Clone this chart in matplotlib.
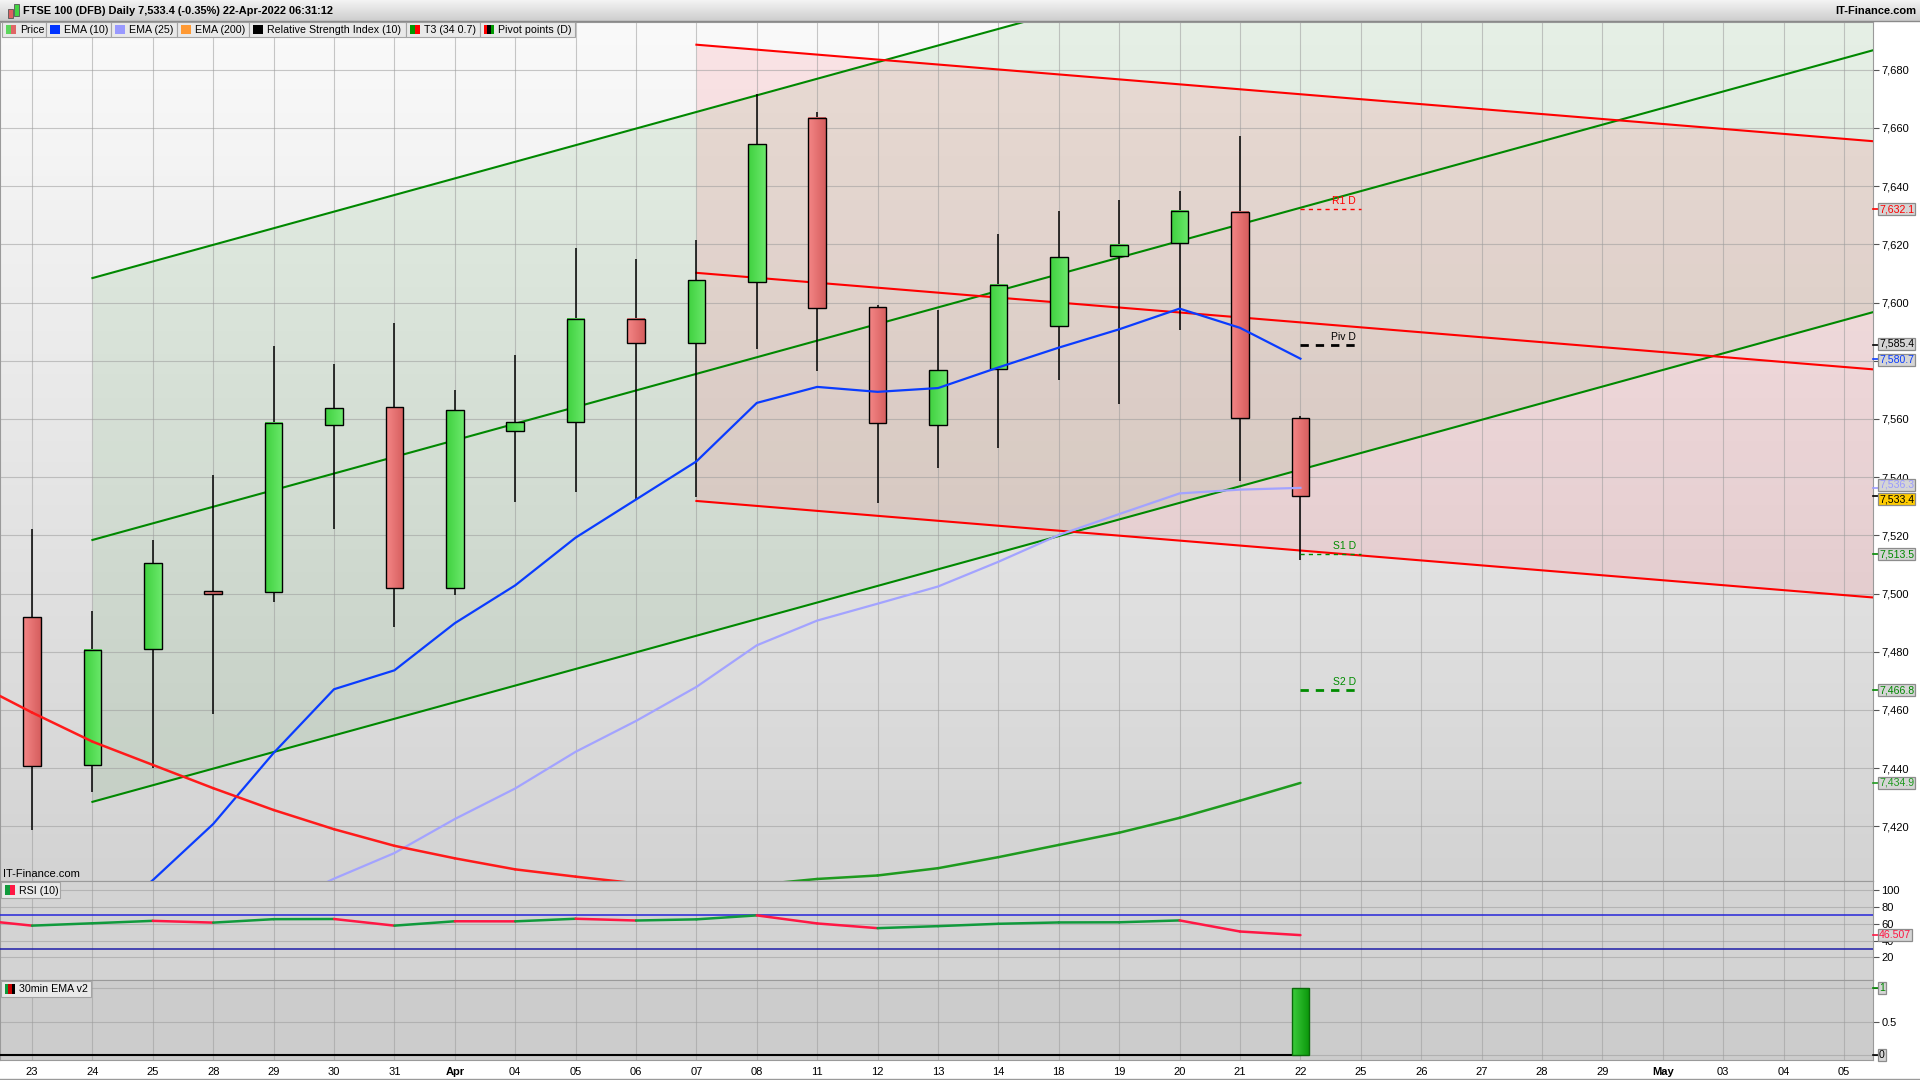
import numpy as np
import matplotlib
matplotlib.use('Agg')
import matplotlib.pyplot as plt
from matplotlib.colors import LinearSegmentedColormap
from matplotlib.patches import Rectangle

plt.rcParams['font.family'] = ['Liberation Sans', 'DejaVu Sans']

# trading days Mar 23 .. Apr 22, then empty future days up to May 05
day_labels = ['23', '24', '25', '28', '29', '30', '31', 'Apr', '04', '05', '06', '07',
              '08', '11', '12', '13', '14', '18', '19', '20', '21', '22',
              '25', '26', '27', '28', '29', 'May', '03', '04', '05']

# daily candles (FTSE 100 DFB)
opens = [7492.0, 7441.0, 7481.0, 7500.6, 7500.4, 7558.0, 7564.0, 7502.0, 7556.0, 7559.0, 7594.5,
         7586.0, 7607.0, 7663.3, 7598.3, 7558.0, 7577.0, 7592.0, 7616.0, 7620.3, 7631.2, 7560.2]
highs = [7522.1, 7494.0, 7518.4, 7540.7, 7585.0, 7579.0, 7593.0, 7570.0, 7582.0, 7618.6, 7615.0,
         7621.5, 7671.7, 7665.4, 7599.0, 7597.5, 7623.6, 7631.6, 7635.4, 7638.4, 7657.3, 7561.0]
lows = [7418.6, 7431.7, 7440.0, 7458.6, 7497.2, 7522.2, 7488.4, 7499.6, 7531.6, 7535.0, 7532.5,
        7533.0, 7584.0, 7576.4, 7531.0, 7543.0, 7550.0, 7573.4, 7565.0, 7590.7, 7538.7, 7511.4]
closes = [7440.8, 7480.6, 7510.4, 7500.0, 7558.5, 7563.7, 7501.8, 7563.0, 7559.0, 7594.5, 7586.0,
          7607.6, 7654.4, 7598.0, 7558.6, 7576.8, 7606.0, 7615.6, 7619.8, 7631.6, 7560.2, 7533.4]

# moving averages
ema10 = [7384.0, 7401.5, 7420.8, 7445.2, 7467.1, 7473.6, 7489.8, 7502.8, 7519.2, 7532.3, 7545.4,
         7565.5, 7571.0, 7569.3, 7570.6, 7577.7, 7584.5, 7590.8, 7597.9, 7591.3, 7580.7]   # from Mar 24
ema25 = [7392.0, 7402.0, 7410.8, 7422.5, 7433.0, 7445.6, 7456.2, 7467.9, 7482.2, 7490.7, 7496.5,
         7502.4, 7510.9, 7520.1, 7527.3, 7534.4, 7535.7, 7536.3]                           # from Mar 29
t3 = [7469.8, 7459.1, 7449.1, 7441.1, 7433.1, 7425.6, 7419.0, 7413.3, 7409.0, 7405.2, 7402.7,
      7400.4, 7399.2, 7399.9, 7401.9, 7403.1, 7405.6, 7409.4, 7413.6, 7417.8, 7422.9, 7428.8, 7434.9]  # from Mar 22
rsi = [65.3, 57.8, 60.6, 63.5, 61.4, 65.5, 65.7, 57.8, 63.0, 62.9, 66.0, 63.9,
       65.3, 70.0, 60.4, 54.8, 57.2, 60.0, 61.6, 61.8, 64.0, 50.8, 46.5]                  # from Mar 22
ema30_signal = [0, 0, 0, 0, 0, 0, 0, 0, 0, 0, 0, 0, 0, 0, 0, 0, 0, 0, 0, 0, 0, 1]

# regression channels: x range, mid line ends, half width
green_chan_x = [1, 30.5]
green_chan_mid = [7518.4, 7686.8]
green_chan_half = 90.0
red_chan_x = [11, 30.5]
red_chan_mid = [7610.2, 7577.0]
red_chan_half = 78.4

# daily pivot points
pivot_names = ['R1 D', 'Piv D', 'S1 D', 'S2 D']
pivot_values = [7632.1, 7585.4, 7513.5, 7466.8]
pivot_colors = ['#ff0000', '#000000', '#008c00', '#008c00']
pivot_widths = [1.0, 2.0, 1.0, 2.0]

W, H = 1920, 1080
RIGHT = 1873
XMIN, XMAX = -0.53, 30.48
GREEN = '#008800'

fig = plt.figure(figsize=(W / 100, H / 100), dpi=100, facecolor='white')


def panel(top, bottom):
    a = fig.add_axes([0, 1 - bottom / H, RIGHT / W, (bottom - top) / H])
    for s in a.spines.values():
        s.set_color('#9a9a9a')
    return a


ax = panel(22, 881)
ax_rsi = panel(881, 980)
ax_sig = panel(980, 1060)

x = np.arange(len(day_labels))
xc = x[:len(closes)]

bg_cmap = LinearSegmentedColormap.from_list('bg', ['#fafafa', '#d3d3d3'])
up_cmap = LinearSegmentedColormap.from_list('up', ['#3fd13f', '#6be86b'])
dn_cmap = LinearSegmentedColormap.from_list('dn', ['#f48686', '#d65e5e'])
bar_cmap = LinearSegmentedColormap.from_list('bar', ['#3ccc3c', '#0a960a'])
hgrad = np.linspace(0, 1, 32).reshape(1, -1)

# ---- main price panel ----
ymin, ymax = 7401.2, 7696.4
ax.imshow(np.linspace(0, 1, 256).reshape(-1, 1), extent=[XMIN, XMAX, ymin, ymax],
          cmap=bg_cmap, aspect='auto', zorder=0)

gm = np.array(green_chan_mid)
ax.fill_between(green_chan_x, gm - green_chan_half, gm + green_chan_half,
                color='#008000', alpha=0.08, lw=0, zorder=1)
rm = np.array(red_chan_mid)
ax.fill_between(red_chan_x, rm - red_chan_half, rm + red_chan_half,
                color=(1, 0.4, 0.45), alpha=0.15, lw=0, zorder=1)
for off in (-1, 0, 1):
    ax.plot(green_chan_x, gm + off * green_chan_half, color=GREEN, lw=1.5, zorder=2)
    ax.plot(red_chan_x, rm + off * red_chan_half, color='#ff0000', lw=1.5, zorder=2)

# candles
w = 0.29
for i, o, h, l, c in zip(xc, opens, highs, lows, closes):
    ax.vlines(i, l, h, color='black', lw=1.1, zorder=3)
    lo, hi = min(o, c), max(o, c)
    if hi - lo < 1.0:
        hi = lo + 1.0
    ax.imshow(hgrad, extent=[i - w / 2, i + w / 2, lo, hi], cmap=up_cmap if c >= o else dn_cmap,
              aspect='auto', zorder=4)
    ax.add_patch(Rectangle((i - w / 2, lo), w, hi - lo, fill=False, ec='black', lw=1.0, zorder=5))

ax.plot(x[1:1 + len(ema10)], ema10, color='#0a3cff', lw=1.6, zorder=6)
ax.plot(x[4:4 + len(ema25)], ema25, color='#a3a3ff', lw=1.6, zorder=6)
t3_x = np.arange(-1, len(t3) - 1)
for k in range(len(t3) - 1):
    col = '#1e9a1e' if t3[k + 1] >= t3[k] else '#ff1a1a'
    ax.plot(t3_x[k:k + 2], t3[k:k + 2], color=col, lw=1.8, zorder=6, solid_capstyle='round')

last = xc[-1]
for name, v, c, lw in zip(pivot_names, pivot_values, pivot_colors, pivot_widths):
    dash = (0, (3, 2.5)) if lw > 1.5 else (0, (3, 3))
    ax.hlines(v, last, last + 1, colors=c, lw=lw, linestyles=dash, zorder=6)
    ax.text(last + 0.92, v + 1.2, name, ha='right', va='bottom', color=c, fontsize=7.5, zorder=7)

ax.set_xlim(XMIN, XMAX)
ax.set_ylim(ymin, ymax)
yt = np.arange(7420, 7681, 20)
ax.set_yticks(yt)
# 7,580 sits under the value tags, as in the original
ax.set_yticklabels(['' if v == 7580 else f'{v:,}' for v in yt])
for lab, v in zip(ax.get_yticklabels(), yt):
    if v % 100 == 0:
        lab.set_fontweight('bold')

# ---- RSI panel ----
ax_rsi.set_facecolor('#d3d3d3')
ax_rsi.axhline(70, color='#2626d9', lw=1.1, zorder=3)
ax_rsi.axhline(30, color='#1e1ea8', lw=1.1, zorder=3)
rsi_x = np.arange(-1, len(rsi) - 1)
for k in range(len(rsi) - 1):
    col = '#109a3c' if rsi[k + 1] >= rsi[k] else '#ff1744'
    ax_rsi.plot(rsi_x[k:k + 2], rsi[k:k + 2], color=col, lw=1.8, zorder=4, solid_capstyle='round')
ax_rsi.set_ylim(-7, 111)
ax_rsi.set_yticks([20, 40, 60, 80, 100])
ax_rsi.set_yticklabels(['20', '40', '60', '80', '100'])
ax_rsi.get_yticklabels()[-1].set_fontweight('bold')

# ---- 30min EMA v2 panel ----
ax_sig.set_facecolor('#cccccc')
sig = np.array(ema30_signal)
ax_sig.plot([XMIN, last], [0, 0], color='black', lw=1.5, zorder=3)
for i, s in zip(xc, sig):
    if s > 0:
        ax_sig.imshow(hgrad, extent=[i - w / 2, i + w / 2, 0, s], cmap=bar_cmap, aspect='auto', zorder=4)
        ax_sig.add_patch(Rectangle((i - w / 2, 0), w, s, fill=False, ec='#0a6a0a', lw=1.0, zorder=5))
ax_sig.set_ylim(-0.075, 1.125)
ax_sig.set_yticks([0, 0.5, 1])
ax_sig.set_yticklabels(['', '0.5', ''])

for a in (ax, ax_rsi, ax_sig):
    a.set_xlim(XMIN, XMAX)
    a.set_xticks(x)
    a.grid(True, color='#9c9c9c', alpha=0.55, lw=0.8)
    a.yaxis.tick_right()
    a.tick_params(axis='y', direction='out', length=4, width=0.8, color='#555555', pad=2, labelsize=8)
    a.tick_params(axis='x', length=0, labelbottom=False)

ax_sig.tick_params(axis='x', labelbottom=True, pad=5)
ax_sig.set_xticklabels(day_labels)
for lab in ax_sig.get_xticklabels():
    lab.set_family(['Liberation Sans Narrow', 'Liberation Sans'])
    lab.set_fontsize(8)
    if lab.get_text() in ('Apr', 'May'):
        lab.set_fontweight('bold')


def tag(a, y, text, color, face='#d5d5d5', dy=0):
    tr = a.get_yaxis_transform()
    a.plot([1.0, 1.0025], [y, y], transform=tr, color=color, lw=1.2, clip_on=False, zorder=8)
    a.annotate(text, xy=(1, y), xycoords=tr, xytext=(6, dy), textcoords='offset pixels',
               ha='left', va='center', fontsize=7.6, color=color, zorder=9, annotation_clip=False,
               bbox=dict(boxstyle='square,pad=0.1', fc=face, ec='#8c8c8c', lw=0.9))


tag(ax, 7632.1, '7,632.1', '#ff0000')
tag(ax, 7585.4, '7,585.4', '#000000', dy=1)
tag(ax, 7580.7, '7,580.7', '#0a3cff', dy=-1)
tag(ax, 7536.3, '7,536.3', '#9a9aff', dy=3)
tag(ax, 7533.4, '7,533.4', '#000000', face='#ffcc00', dy=-3)
tag(ax, 7513.5, '7,513.5', GREEN)
tag(ax, 7466.8, '7,466.8', GREEN)
tag(ax, 7434.9, '7,434.9', '#1e9a1e')
tag(ax_rsi, rsi[-1], '46.507', '#ff1744')
tag(ax_sig, 1, '1', GREEN)
tag(ax_sig, 0, '0', '#000000')

# ---- header, legends and labels in pixel coordinates ----
ov = fig.add_axes([0, 0, 1, 1], zorder=10)
ov.patch.set_alpha(0)
title_cmap = LinearSegmentedColormap.from_list('tb', ['#f4f4f4', '#cdcdcd'])
ov.imshow(np.linspace(0, 1, 64).reshape(-1, 1), extent=[0, W, 21, 0], cmap=title_cmap, aspect='auto')
ov.plot([0, W], [21, 21], color='#8a8a8a', lw=1)
ov.add_patch(Rectangle((8, 9), 5, 9, fc='#e06060', ec='#555555', lw=0.6))
ov.add_patch(Rectangle((14, 4), 5, 12, fc='#44d444', ec='#555555', lw=0.6))
ov.text(23, 11, 'FTSE 100 (DFB) Daily 7,533.4 (-0.35%) 22-Apr-2022 06:31:12',
        fontsize=7.9, fontweight='bold', va='center', ha='left')
ov.text(W - 4, 11, 'IT-Finance.com', fontsize=8, fontweight='bold', va='center', ha='right')

legend_items = [('Price', ['#5cd65c', '#e06666']), ('EMA (10)', ['#0033ff']),
                ('EMA (25)', ['#9999ff']), ('EMA (200)', ['#ff9933']),
                ('Relative Strength Index (10)', ['#000000']), ('T3 (34 0.7)', ['#009900', '#ff0000']),
                ('Pivot points (D)', ['#ff0000', '#000000', '#009900'])]
box_edges = [2, 46, 111, 177, 249, 406, 480, 575]


def label_box(x0, x1, y0, y1, text, colors):
    ov.add_patch(Rectangle((x0, y0), x1 - x0, y1 - y0, fc='#e9e9e9', ec='#a4a4a4', lw=0.8))
    n = len(colors)
    for j, c in enumerate(colors):
        ov.add_patch(Rectangle((x0 + 4 + j * 10 / n, y0 + 3), 10 / n, y1 - y0 - 6, fc=c, lw=0))
    ov.text(x0 + 18, (y0 + y1) / 2 + 0.5, text, fontsize=7.7, va='center', ha='left')


for (name, cols), x0, x1 in zip(legend_items, box_edges[:-1], box_edges[1:]):
    label_box(x0, x1, 22, 37, name, cols)
label_box(1, 60, 882, 898, 'RSI (10)', ['#109a3c', '#ff1744'])
label_box(1, 91, 981, 997, '30min EMA v2', ['#109a3c', '#cc0000', '#000000'])
ov.text(3, 879, 'IT-Finance.com', fontsize=8, va='bottom', ha='left')
ov.plot([0, W], [1079, 1079], color='#9a9a9a', lw=1)

ov.set_xlim(0, W)
ov.set_ylim(H, 0)
ov.axis('off')

fig.savefig('out.png', dpi=100, facecolor='white')
